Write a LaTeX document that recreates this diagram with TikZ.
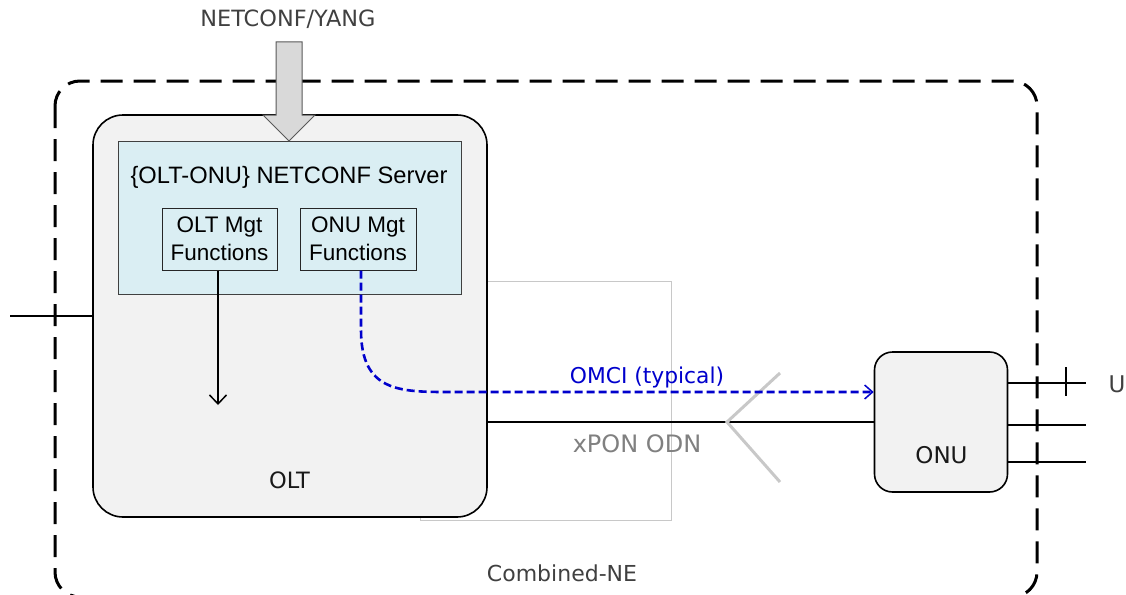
\documentclass[tikz,border=0pt]{standalone}
\usepackage{fontspec}
\setmainfont{DejaVu Sans}
\newfontfamily\arialf{Liberation Sans}
\usetikzlibrary{arrows.meta}
\definecolor{oltfill}{HTML}{F2F2F2}
\definecolor{srvfill}{HTML}{DAEEF3}
\definecolor{txtgray}{HTML}{404040}
\definecolor{odngray}{HTML}{808080}
\definecolor{lightline}{HTML}{C8C8C8}
\definecolor{omciblue}{HTML}{0000CC}
\definecolor{arrowfill}{HTML}{D9D9D9}
\begin{document}
\begin{tikzpicture}[x=1pt,y=-1pt,
  box/.style={draw=black, line width=1.6pt, fill=oltfill, inner sep=0pt},
  srvbox/.style={draw=black!75, line width=1pt, fill=srvfill, inner sep=0pt},
  mgtbox/.style={draw=black!85, line width=1pt, fill=srvfill, inner sep=0pt,
    minimum width=115pt, minimum height=62pt, align=center,
    font=\arialf\fontsize{22.5}{27.5}\selectfont},
  lbl/.style={anchor=base, inner sep=0pt},
  ctrl/.style={draw=black, line width=1.5pt},
  omci/.style={draw=omciblue, line width=2.6pt, dash pattern=on 8pt off 4pt,
    -{Straight Barb[length=8pt,width=14pt,line width=1.5pt]}},
  outerbox/.style={draw=black, line width=3pt, dash pattern=on 22pt off 11pt, rounded corners=25pt},
  portline/.style={draw=black, line width=2pt}]
\useasboundingbox (0,0) rectangle (1126,594);

% combined NE outer dashed box
\draw[outerbox] (55,81) rectangle (1037,597);

% light gray ODN rectangle (behind OLT)
\draw[lightline, line width=1pt] (420,281) rectangle (671,520);

% OLT box
\node[box, rounded corners=30pt, minimum width=394pt, minimum height=402pt] (olt) at (290,316) {};
\node[lbl, font=\fontsize{22.5}{26}\selectfont, text=black!90] (oltlbl) at (289.5,488) {OLT};

% NETCONF server
\node[srvbox, minimum width=343pt, minimum height=153pt] (srv) at (289.5,217.5) {};
\node[lbl, font=\arialf\fontsize{23.7}{28}\selectfont] (srvlbl) at (289,183) {\{OLT-ONU\} NETCONF Server};

\node[mgtbox] (oltmgt) at (219.5,239) {OLT Mgt\\Functions};
\node[mgtbox, minimum width=116pt] (onumgt) at (358,239) {ONU Mgt\\Functions};

% ONU box
\node[box, rounded corners=18pt, minimum width=133pt, minimum height=140pt] (onu) at (941,422) {};
\node[lbl, font=\fontsize{23}{27}\selectfont, text=black!90] (onulbl) at (941.5,463) {ONU};

% xPON line
\draw[portline] (olt.east |- onu.west) -- (onu.west);
\node[lbl, font=\fontsize{24}{28}\selectfont, text=odngray] (odnlbl) at (637,452) {xPON ODN};

% gray splitter symbol
\coordinate (splt) at (727,422);
\draw[lightline, line width=3pt] (780,373) -- (splt) -- (780,482);

% OLT management arrow
\coordinate (oltend) at (218,405);
\draw[ctrl, -{Straight Barb[length=9pt,width=17pt,line width=1.5pt]}] (oltmgt.south -| oltend) -- (oltend);

% OMCI dashed arrow
\coordinate (omcibend) at (361,330);
\coordinate (omcih) at (450,392);
\draw[omci] (onumgt.south -| omcibend) -- (omcibend) .. controls (361,392) and (400,392) .. (omcih) -- (onu.west |- omcih);
\node[lbl, font=\fontsize{21.8}{26}\selectfont, text=omciblue] (omcilbl) at (647,383) {OMCI (typical)};

% left network line
\coordinate (lefte) at (10,316);
\draw[portline] (lefte) -- (olt.west);

% right UNI lines
\coordinate (u1) at (1086,383);
\coordinate (u2) at (1086,425);
\coordinate (u3) at (1086,462);
\draw[portline] (onu.east |- u1) -- (u1);
\draw[portline] (onu.east |- u2) -- (u2);
\draw[portline] (onu.east |- u3) -- (u3);
\coordinate (tickt) at (1066,367);
\coordinate (tickb) at (1066,396);
\draw[portline, line width=2.5pt] (tickt) -- (tickb);
\node[lbl, font=\fontsize{23}{26}\selectfont, text=txtgray] (ulbl) at (1117,392) {U};

% NETCONF/YANG block arrow
\node[lbl, font=\fontsize{22.4}{26}\selectfont, text=txtgray] (nclbl) at (288,27) {NETCONF/YANG};
\draw[fill=arrowfill, draw=black!65, line width=1pt]
  (276,42) -- (302,42) -- (302,115) -- (315,115) -- (289,141) -- (263,115) -- (276,115) -- cycle;

% Combined-NE label
\node[lbl, font=\fontsize{22}{25}\selectfont, text=txtgray] (nelbl) at (562,581) {Combined-NE};
\end{tikzpicture}
\end{document}
